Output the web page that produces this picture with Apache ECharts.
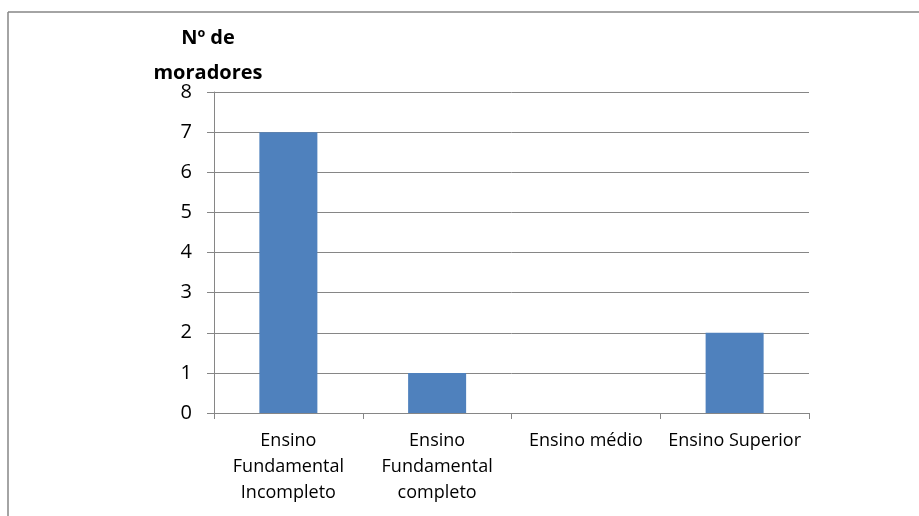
<!DOCTYPE html>
<html><head><meta charset="utf-8">
<script src="https://cdn.jsdelivr.net/npm/echarts@6/dist/echarts.min.js"></script>
<style>html,body{margin:0;padding:0;background:#fff}#c{width:919px;height:516px}</style>
</head><body><div id="c"></div>
<script>
const categories = ["Ensino\nFundamental\nIncompleto", "Ensino\nFundamental\ncompleto", "Ensino médio", "Ensino Superior"];
const moradores = [7, 1, 0, 2];
const yTicks = [0, 1, 2, 3, 4, 5, 6, 7, 8];
const yTitleLines = ["Nº de", "moradores"];

const chart = echarts.init(document.getElementById('c'));
const font = "'Open Sans', 'Lato', sans-serif";
chart.setOption({
  backgroundColor: '#fff',
  animation: false,
  title: {
    text: yTitleLines.join('\n'),
    left: 203, top: 16, textAlign: 'center',
    textStyle: { fontFamily: font, fontWeight: 'bold', fontSize: 20, lineHeight: 35, color: '#000' }
  },
  grid: { left: 214, right: 110, top: 92, bottom: 103 },
  xAxis: {
    type: 'category', data: categories,
    axisLine: { lineStyle: { color: '#868686', width: 1 } },
    axisTick: { show: true, length: 6, alignWithLabel: false, lineStyle: { color: '#868686' } },
    axisLabel: { interval: 0, fontFamily: font, fontSize: 18, lineHeight: 26, color: '#000', margin: 15 }
  },
  yAxis: {
    type: 'value', min: yTicks[0], max: yTicks[yTicks.length - 1], interval: 1,
    axisLine: { show: true, lineStyle: { color: '#868686', width: 1 } },
    axisTick: { show: true, length: 7, lineStyle: { color: '#868686' } },
    splitLine: { lineStyle: { color: '#868686', width: 1 } },
    axisLabel: { fontFamily: font, fontSize: 20, color: '#000', margin: 22 }
  },
  series: [{
    type: 'bar', data: moradores, barWidth: '39%',
    itemStyle: { color: '#4F81BD' }
  }],
  graphic: [
    { type: 'line', shape: { x1: 8, y1: 12, x2: 919, y2: 12 }, style: { stroke: '#868686', lineWidth: 1.5 } },
    { type: 'line', shape: { x1: 8, y1: 12, x2: 8, y2: 516 }, style: { stroke: '#868686', lineWidth: 1.5 } }
  ]
});
</script></body></html>
